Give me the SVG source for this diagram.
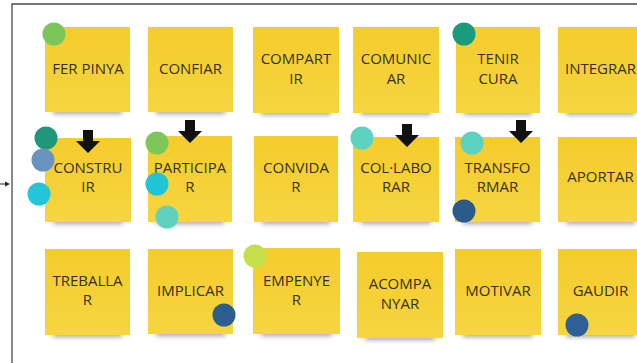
<svg xmlns="http://www.w3.org/2000/svg" width="637" height="363" viewBox="0 0 637 363">
<defs>
<filter id="sh" x="-20%" y="-100%" width="140%" height="300%"><feGaussianBlur stdDeviation="2.5"/></filter>
<linearGradient id="ng" x1="0" y1="0" x2="0" y2="1"><stop offset="0" stop-color="#f4cc2c"/><stop offset="1" stop-color="#f6d540"/></linearGradient>
<path id="dn" d="M-5,-23 H5 V-12 H12 L0,0 L-12,-12 H-5 Z"/>
</defs>
<style>
.note{fill:url(#ng)}
.shadow{fill:#3a3a3a;opacity:.45;filter:url(#sh)}
text{font-family:"Open Sans","Noto Sans","Liberation Sans",sans-serif;font-size:15px;fill:#36301f;text-anchor:middle}
.frame{fill:none;stroke:#4a4a4a;stroke-width:1.3}
.arr{fill:#111}
</style>
<rect width="637" height="363" fill="#fff"/>
<path class="frame" d="M12,363 V4 H637"/>
<g id="connectors">
<path d="M0,184 H6" stroke="#222" stroke-width="1"/>
<path d="M10,184 L5,181.5 L5,186.5 Z" fill="#222"/>
</g>
<g id="n-ferpinya"><rect class="shadow" x="53" y="104" width="69" height="10"/><rect class="note" x="45" y="27" width="85" height="85"/><text x="88" y="74">FER PINYA</text><circle cx="54" cy="34" r="11.5" fill="#7ac65a"/></g>
<g id="n-confiar"><rect class="shadow" x="156" y="104" width="69" height="10"/><rect class="note" x="148" y="27" width="85" height="85"/><text x="190.5" y="74">CONFIAR</text></g>
<g id="n-compartir"><rect class="shadow" x="261" y="105" width="70" height="10"/><rect class="note" x="253" y="27" width="86" height="86"/><text x="296" y="64">COMPART</text><text x="296" y="84">IR</text></g>
<g id="n-comunicar"><rect class="shadow" x="361" y="105" width="70" height="10"/><rect class="note" x="353" y="27" width="86" height="86"/><text x="396" y="64">COMUNIC</text><text x="396" y="84">AR</text></g>
<g id="n-tenircura"><rect class="shadow" x="464" y="105" width="68" height="10"/><rect class="note" x="456" y="27" width="84" height="86"/><text x="498" y="64">TENIR</text><text x="498" y="84">CURA</text><circle cx="464" cy="34" r="11.5" fill="#1a9b7e"/></g>
<g id="n-integrar"><rect class="shadow" x="566" y="105" width="69" height="10"/><rect class="note" x="558" y="27" width="85" height="86"/><text x="600.5" y="74">INTEGRAR</text></g>

<g id="n-construir"><rect class="shadow" x="53" y="214" width="70" height="10"/><rect class="note" x="45" y="138" width="86" height="84"/><text x="88" y="173">CONSTRU</text><text x="88" y="192">IR</text><circle cx="46" cy="138" r="11.5" fill="#1e977a"/><circle cx="43" cy="160" r="11.5" fill="#6b93bf"/><circle cx="39" cy="194" r="11.5" fill="#22c6d8"/></g>
<g id="n-participar"><rect class="shadow" x="156" y="214" width="68" height="10"/><rect class="note" x="148" y="136" width="84" height="86"/><text x="190" y="173">PARTICIPA</text><text x="190" y="192">R</text><circle cx="157" cy="143" r="11.5" fill="#7cc757"/><circle cx="157" cy="184" r="11.5" fill="#20c4d6"/><circle cx="167" cy="217" r="11.5" fill="#5fd2bf"/></g>
<g id="n-convidar"><rect class="shadow" x="262" y="214" width="68" height="10"/><rect class="note" x="254" y="136" width="84" height="86"/><text x="296" y="173">CONVIDA</text><text x="296" y="192">R</text></g>
<g id="n-collaborar"><rect class="shadow" x="361" y="214" width="70" height="10"/><rect class="note" x="353" y="137" width="86" height="85"/><text x="396" y="173">COL·LABO</text><text x="396" y="192">RAR</text><circle cx="362" cy="138" r="11.5" fill="#5dd2c0"/></g>
<g id="n-transformar"><rect class="shadow" x="463" y="214" width="69" height="10"/><rect class="note" x="455" y="137" width="85" height="85"/><text x="497.5" y="173">TRANSFO</text><text x="497.5" y="192">RMAR</text><circle cx="472" cy="143" r="11.5" fill="#5cd2c3"/><circle cx="464" cy="211" r="11.5" fill="#2c5a8c"/></g>
<g id="n-aportar"><rect class="shadow" x="566" y="214" width="69" height="10"/><rect class="note" x="558" y="137" width="85" height="85"/><text x="600.5" y="182">APORTAR</text></g>

<g id="n-treballar"><rect class="shadow" x="53" y="327" width="69" height="10"/><rect class="note" x="45" y="249" width="85" height="86"/><text x="87.5" y="286">TREBALLA</text><text x="87.5" y="305">R</text></g>
<g id="n-implicar"><rect class="shadow" x="156" y="326" width="69" height="10"/><rect class="note" x="148" y="249" width="85" height="85"/><text x="190.5" y="296">IMPLICAR</text><circle cx="224" cy="315" r="11.5" fill="#2b5d8f"/></g>
<g id="n-empenyer"><rect class="shadow" x="261" y="326" width="71" height="10"/><rect class="note" x="253" y="248" width="87" height="86"/><text x="296.5" y="286">EMPENYE</text><text x="296.5" y="305">R</text><circle cx="255" cy="256" r="11.5" fill="#c4df4a"/></g>
<g id="n-acompanyar"><rect class="shadow" x="365" y="330" width="70" height="10"/><rect class="note" x="357" y="252" width="86" height="86"/><text x="400" y="289">ACOMPA</text><text x="400" y="309">NYAR</text></g>
<g id="n-motivar"><rect class="shadow" x="463" y="327" width="70" height="10"/><rect class="note" x="455" y="249" width="86" height="86"/><text x="498" y="296">MOTIVAR</text></g>
<g id="n-gaudir"><rect class="shadow" x="566" y="327" width="69" height="10"/><rect class="note" x="558" y="249" width="85" height="86"/><text x="600.5" y="296">GAUDIR</text><circle cx="577" cy="325" r="11.5" fill="#2f5f96"/></g>

<g id="markers">
<use href="#dn" class="arr" x="88" y="153"/>
<use href="#dn" class="arr" x="190" y="143"/>
<use href="#dn" class="arr" x="407" y="147"/>
<use href="#dn" class="arr" x="521" y="143"/>
</g>
</svg>
